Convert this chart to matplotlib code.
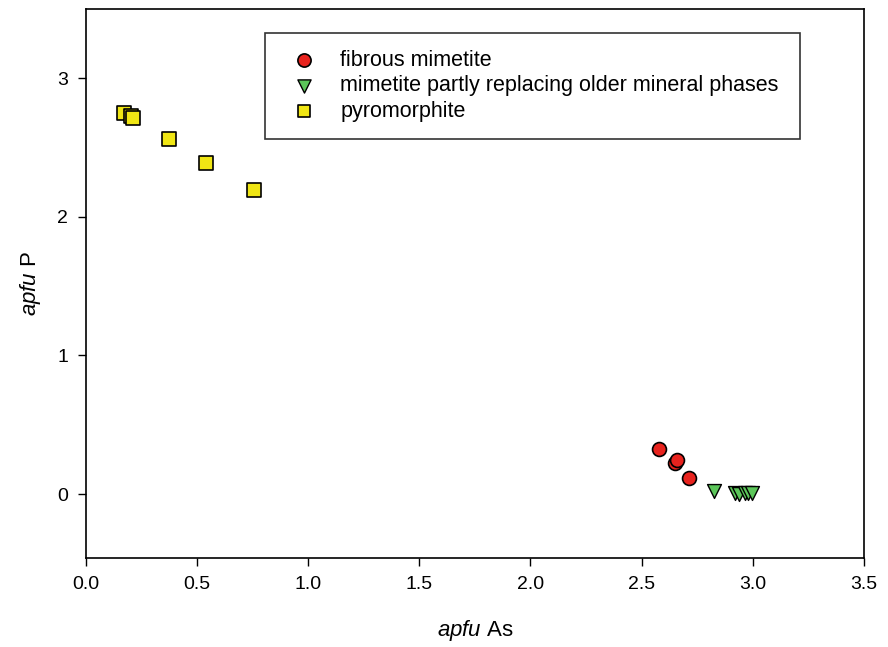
import matplotlib
matplotlib.use("Agg")
import matplotlib.pyplot as plt

plt.rcParams['font.family'] = ['Liberation Sans', 'DejaVu Sans']
plt.rcParams['mathtext.fontset'] = 'custom'
plt.rcParams['mathtext.it'] = 'Liberation Sans:italic'
plt.rcParams['mathtext.rm'] = 'Liberation Sans'

fib_as = [2.58, 2.65, 2.66, 2.715]
fib_p = [0.323, 0.227, 0.245, 0.118]

rep_as = [2.826, 2.92, 2.94, 2.965, 2.98, 2.995]
rep_p = [0.025, 0.005, 0.0, 0.01, 0.008, 0.005]

pyr_as = [0.169, 0.204, 0.21, 0.372, 0.542, 0.756]
pyr_p = [2.75, 2.727, 2.715, 2.557, 2.384, 2.19]

labels = ["fibrous mimetite",
          "mimetite partly replacing older mineral phases",
          "pyromorphite"]

fig = plt.figure(figsize=(8.88, 6.47), dpi=100)
ax = fig.add_axes([0.0968, 0.1376, 0.876, 0.849])

ax.scatter(fib_as, fib_p, marker='o', s=100, c='#e8231e', edgecolors='black', linewidths=1.2, label=labels[0], zorder=3)
ax.scatter(rep_as, rep_p, marker='v', s=100, c='#5cc65a', edgecolors='black', linewidths=1.0, label=labels[1], zorder=3)
ax.scatter(pyr_as, pyr_p, marker='s', s=90, c='#f0e614', edgecolors='black', linewidths=1.2, label=labels[2], zorder=3)

ax.set_xlim(0, 3.5)
ax.set_ylim(-0.46, 3.5)
ax.set_xticks([0, 0.5, 1.0, 1.5, 2.0, 2.5, 3.0, 3.5])
ax.set_xticklabels(['0.0', '0.5', '1.0', '1.5', '2.0', '2.5', '3.0', '3.5'])
ax.set_yticks([0, 1, 2, 3])
ax.tick_params(direction='out', length=6, width=1, labelsize=14, top=False, right=False, pad=7)
for sp in ax.spines.values():
    sp.set_linewidth(1.2)

ax.set_xlabel(r'$\it{apfu}$ As', fontsize=16, labelpad=18)
ax.set_ylabel(r'$\it{apfu}$ P', fontsize=16, labelpad=10)

leg = ax.legend(loc='upper left', bbox_to_anchor=(0.23, 0.956, 0.688, 0.0), mode='expand',
                fontsize=15.5, frameon=True, fancybox=False, edgecolor='black',
                borderpad=0.8, labelspacing=0.2, handletextpad=0.7, borderaxespad=0,
                scatterpoints=1, markerscale=0.95)
leg.get_frame().set_linewidth(1.2)

fig.savefig('out.png', dpi=100)
